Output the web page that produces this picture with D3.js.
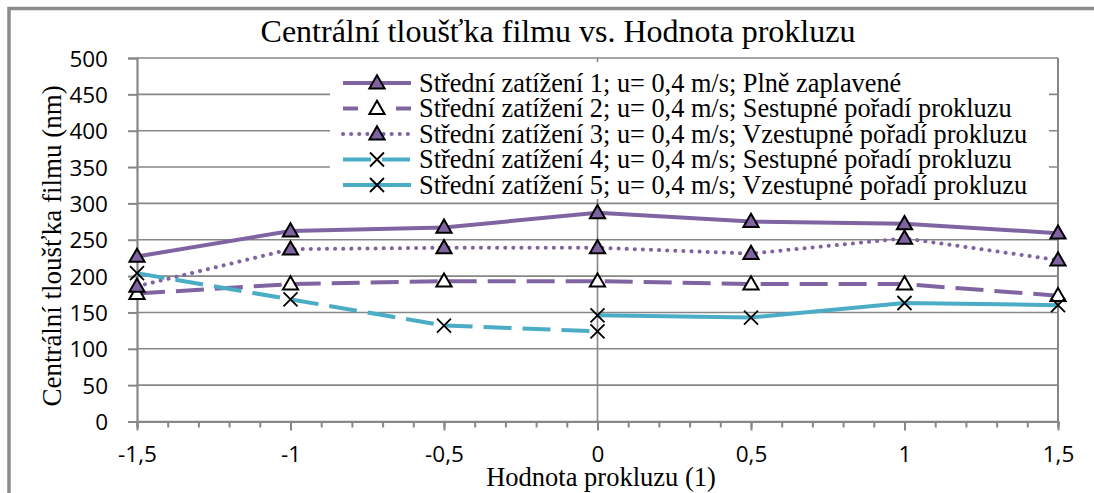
<!DOCTYPE html>
<html>
<head>
<meta charset="utf-8">
<script src="https://cdn.jsdelivr.net/npm/d3@7"></script>
<style>
  html, body { margin: 0; padding: 0; background: #fff; }
  svg { display: block; }
</style>
</head>
<body>
<svg id="chart" width="1094" height="493"></svg>
<script>
// Slip values (x) and central film thickness in nm (y)
const slipAll = [-1.5, -1, -0.5, 0, 0.5, 1, 1.5];
const load1 = [227, 262, 267, 287, 275, 272, 259];
const load2 = [176, 189, 193, 193, 189, 189, 173];
const load3 = [186, 237, 239, 239, 231, 252, 222];
const slipDesc = [-1.5, -1, -0.5, 0];
const load4 = [204, 168, 132, 124];
const slipAsc = [0, 0.5, 1, 1.5];
const load5 = [146, 143, 163, 160];

const seriesNames = [
  "Střední zatížení 1; u= 0,4 m/s; Plně zaplavené",
  "Střední zatížení 2; u= 0,4 m/s; Sestupné pořadí prokluzu",
  "Střední zatížení 3; u= 0,4 m/s; Vzestupné pořadí prokluzu",
  "Střední zatížení 4; u= 0,4 m/s; Sestupné pořadí prokluzu",
  "Střední zatížení 5; u= 0,4 m/s; Vzestupné pořadí prokluzu"
];
const xTickValues = [-1.5, -1, -0.5, 0, 0.5, 1, 1.5];
const yTickValues = [0, 50, 100, 150, 200, 250, 300, 350, 400, 450, 500];

const title = "Centrální tloušťka filmu vs. Hodnota prokluzu";
const xTitle = "Hodnota prokluzu (1)";
const yTitle = "Centrální tloušťka filmu (nm)";

const PURPLE = "#8064a2", CYAN = "#4bacc6", GRID = "#878787";
const SERIF = '"Liberation Serif", "Times New Roman", serif';
const SANS = '"Open Sans", "Liberation Sans", sans-serif';

const series = [
  { x: slipAll, y: load1, color: PURPLE, dash: null, width: 4, marker: "tri", fill: PURPLE },
  { x: slipAll, y: load2, color: PURPLE, dash: "28,11", width: 4, marker: "tri", fill: "#fff", legendDash: "15,38,15" },
  { x: slipAll, y: load3, color: PURPLE, dash: "0.1,8", width: 4, cap: "round", marker: "tri", fill: PURPLE },
  { x: slipDesc, y: load4, color: CYAN, dash: "28,11", width: 4, marker: "x" },
  { x: slipAsc, y: load5, color: CYAN, dash: null, width: 4, marker: "x" }
];

const svg = d3.select("#chart");
svg.append("rect").attr("width", 1094).attr("height", 493).attr("fill", "#fff");

// Chart-area frame (extends past the window on the right and bottom)
svg.append("rect")
  .attr("x", 9).attr("y", 8.5).attr("width", 1200).attr("height", 600)
  .attr("fill", "none").attr("stroke", "#8c8c8c").attr("stroke-width", 3.5);

const x = d3.scaleLinear().domain([-1.5, 1.5]).range([137, 1058]);
const y = d3.scaleLinear().domain([0, 500]).range([421.5, 58]);

// Horizontal gridlines
svg.append("g").selectAll("line").data(yTickValues).join("line")
  .attr("x1", x(-1.5)).attr("x2", x(1.5))
  .attr("y1", d => y(d)).attr("y2", d => y(d))
  .attr("stroke", GRID).attr("stroke-width", 1.6);

// Vertical line at zero slip
svg.append("line")
  .attr("x1", x(0)).attr("x2", x(0)).attr("y1", y(0)).attr("y2", y(500))
  .attr("stroke", GRID).attr("stroke-width", 1.6);

// Right edge of plot area
svg.append("line")
  .attr("x1", x(1.5)).attr("x2", x(1.5)).attr("y1", y(0)).attr("y2", y(500))
  .attr("stroke", GRID).attr("stroke-width", 2);

// Y axis
const yAxis = d3.axisLeft(y).tickValues(yTickValues).tickSize(9).tickPadding(20)
  .tickFormat(d => String(d));
const gy = svg.append("g").attr("transform", `translate(${x(-1.5)},0)`).call(yAxis);
gy.select(".domain").attr("stroke", GRID).attr("stroke-width", 2.2);
gy.selectAll(".tick line").attr("stroke", GRID).attr("stroke-width", 2);
gy.selectAll(".tick text").style("font-family", SANS).style("font-size", "22.5px")
  .attr("fill", "#000").attr("dy", "0.36em");

// X axis: minor ticks every 0.1, labelled major ticks every 0.5
const minorTicks = d3.range(-15, 16).map(i => i / 10);
const gxMinor = svg.append("g").attr("transform", `translate(0,${y(0)})`)
  .call(d3.axisBottom(x).tickValues(minorTicks).tickSize(6).tickFormat(""));
gxMinor.select(".domain").attr("stroke", GRID).attr("stroke-width", 2.2);
gxMinor.selectAll(".tick line").attr("stroke", GRID).attr("stroke-width", 2);

const xFmt = d => String(d).replace(".", ",");
const gx = svg.append("g").attr("transform", `translate(0,${y(0)})`)
  .call(d3.axisBottom(x).tickValues(xTickValues).tickSize(9).tickPadding(16).tickFormat(xFmt));
gx.select(".domain").remove();
gx.selectAll(".tick line").attr("stroke", GRID).attr("stroke-width", 2);
gx.selectAll(".tick text").style("font-family", SANS).style("font-size", "22.5px")
  .attr("fill", "#000").attr("dy", "0.71em");

// Markers
function drawMarker(g, kind, cx, cy, fill) {
  if (kind === "tri") {
    const sym = d3.symbol().type(d3.symbolTriangle).size(100);
    g.append("path").attr("d", sym())
      .attr("transform", `translate(${cx},${cy + 1})`)
      .attr("fill", fill).attr("stroke", "#000").attr("stroke-width", 2);
  } else {
    const r = 7;
    g.append("path")
      .attr("d", `M${cx - r},${cy - r}L${cx + r},${cy + r}M${cx - r},${cy + r}L${cx + r},${cy - r}`)
      .attr("stroke", "#000").attr("stroke-width", 1.8).attr("fill", "none");
  }
}

// Series lines and markers
const line = d3.line().x(d => x(d[0])).y(d => y(d[1]));
series.forEach(s => {
  const pts = s.x.map((v, i) => [v, s.y[i]]);
  svg.append("path").datum(pts).attr("d", line)
    .attr("fill", "none").attr("stroke", s.color).attr("stroke-width", s.width)
    .attr("stroke-dasharray", s.dash).attr("stroke-linecap", s.cap || "butt")
    .attr("stroke-linejoin", "round");
});
series.forEach(s => {
  const g = svg.append("g");
  s.x.forEach((v, i) => drawMarker(g, s.marker, x(v), y(s.y[i]), s.fill));
});

// Legend
const legend = svg.append("g");
legend.append("rect").attr("x", 330).attr("y", 62).attr("width", 719).attr("height", 137)
  .attr("fill", "#fff");
series.forEach((s, i) => {
  const cy = 83 + i * 25.5;
  legend.append("line").attr("x1", 343).attr("x2", 411).attr("y1", cy).attr("y2", cy)
    .attr("stroke", s.color).attr("stroke-width", s.width)
    .attr("stroke-dasharray", s.legendDash || s.dash).attr("stroke-linecap", s.cap || "butt");
  drawMarker(legend, s.marker, 377, cy, s.fill);
  legend.append("text").attr("x", 419).attr("y", cy + 8.5)
    .style("font-family", SERIF).style("font-size", "26.3px").attr("fill", "#000")
    .text(seriesNames[i]);
});

// Titles
svg.append("text").attr("x", 558).attr("y", 42).attr("text-anchor", "middle")
  .style("font-family", SERIF).style("font-size", "32px").attr("fill", "#000").text(title);
svg.append("text").attr("x", 601).attr("y", 486).attr("text-anchor", "middle")
  .style("font-family", SERIF).style("font-size", "26.5px").attr("fill", "#000").text(xTitle);
svg.append("text").attr("transform", "translate(61,246) rotate(-90)")
  .attr("text-anchor", "middle")
  .style("font-family", SERIF).style("font-size", "27px").attr("fill", "#000").text(yTitle);
</script>
</body>
</html>
